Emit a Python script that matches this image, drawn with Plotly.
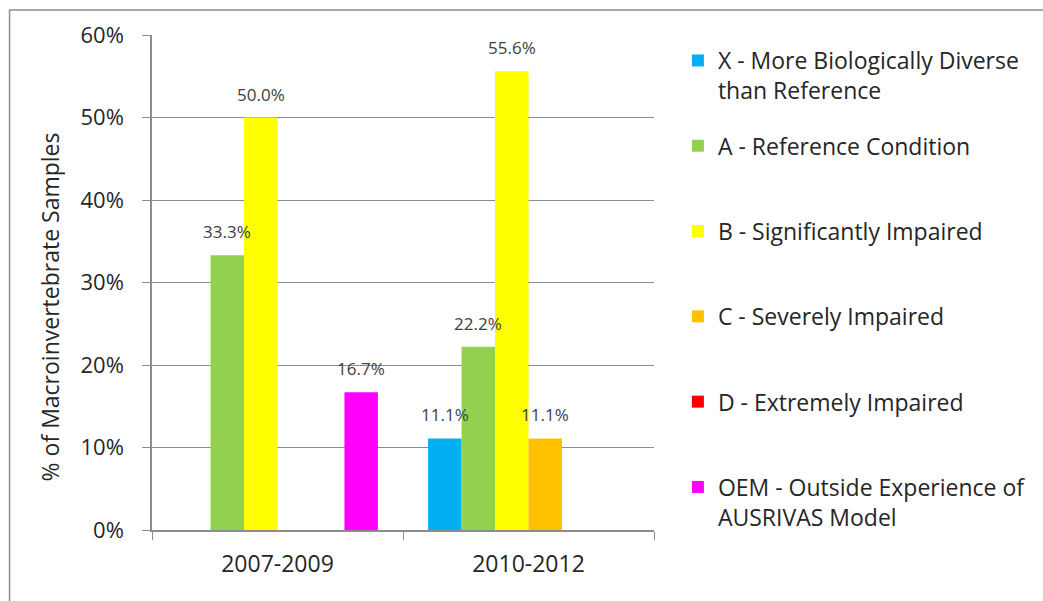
import plotly.graph_objects as go

# Sampling periods (x categories)
periods = ["2007-2009", "2010-2012"]

# AUSRIVAS bands, legend text and fill colours
bands = [
    "X - More Biologically Diverse<br>than Reference",
    "A - Reference Condition<br>&nbsp;",
    "B - Significantly Impaired<br>&nbsp;",
    "C - Severely Impaired<br>&nbsp;",
    "D - Extremely Impaired<br>&nbsp;",
    "OEM - Outside Experience of<br>AUSRIVAS Model",
]
colors = ["#00B0F0", "#92D050", "#FFFF00", "#FFC000", "#FF0000", "#FF00FF"]

# Percentage of samples in each band, per period
pct_x = [0.0, 11.1]
pct_a = [33.3, 22.2]
pct_b = [50.0, 55.6]
pct_c = [0.0, 11.1]
pct_d = [0.0, 0.0]
pct_oem = [16.7, 0.0]
series = [pct_x, pct_a, pct_b, pct_c, pct_d, pct_oem]

# y-axis ticks
tick_vals = [0, 10, 20, 30, 40, 50, 60]
tick_text = ["0%", "10%", "20%", "30%", "40%", "50%", "60%"]

BARGAP = 0.2
FONT = "'Open Sans', sans-serif"
TXT = "#404040"
DARK = "#262626"

fig = go.Figure()
for name, col, vals in zip(bands, colors, series):
    fig.add_trace(go.Bar(
        x=periods, y=vals, name=name, marker_color=col,
        marker_line_width=0, legendgroup=name,
    ))

# Value labels above each non-zero bar
n = len(series)
w = (1 - BARGAP) / n
annotations = []
for i, vals in enumerate(series):
    for j, v in enumerate(vals):
        if v == 0:
            continue
        annotations.append(dict(
            x=j + (i - (n - 1) / 2) * w, y=v, xref="x", yref="y",
            text=f"{v:.1f}%", showarrow=False, yanchor="bottom", yshift=10,
            font=dict(family=FONT, size=17, color=TXT),
        ))

L, R, T, B = 152, 387, 35, 71
pw, ph = 1043 - L - R, 601 - T - B

# Rotated y-axis title
annotations.append(dict(
    text="% of Macroinvertebrate Samples", textangle=-90, showarrow=False,
    xref="paper", yref="paper", x=(50 - L) / pw, y=(530 - 307) / ph,
    xanchor="center", yanchor="middle",
    font=dict(family=FONT, size=23, color=DARK),
))

# Outer chart border
shapes = [dict(
    type="rect", xref="paper", yref="paper",
    x0=(9 - L) / pw, x1=1 + (1060 - 1043 + R) / pw,
    y0=-(B + 20) / ph, y1=1 + (T - 10) / ph,
    line=dict(color="#8c8c8c", width=1.5), fillcolor="rgba(0,0,0,0)", layer="below",
)]

fig.update_layout(
    width=1043, height=601,
    margin=dict(l=L, r=R, t=T, b=B),
    paper_bgcolor="white", plot_bgcolor="white",
    barmode="group", bargap=BARGAP, bargroupgap=0,
    font=dict(family=FONT, color=TXT),
    showlegend=True,
    legend=dict(
        x=1 + (680 - 656) / pw, y=1 + (T - 39) / ph, xanchor="left", yanchor="top",
        font=dict(family=FONT, size=23, color=DARK),
        valign="top", tracegroupgap=22.5, itemclick=False, maxheight=590,
        bgcolor="rgba(0,0,0,0)",
    ),
    annotations=annotations,
    shapes=shapes,
)
fig.update_xaxes(
    type="category", showline=True, linecolor="#8c8c8c", linewidth=1.5,
    ticks="outside", tickson="boundaries", ticklen=8, tickcolor="#8c8c8c",
    ticklabelstandoff=13,
    tickfont=dict(family=FONT, size=23, color=DARK), showgrid=False,
)
fig.update_yaxes(
    range=[0, 60], tickvals=tick_vals, ticktext=tick_text,
    showline=True, linecolor="#8c8c8c", linewidth=1.5,
    ticks="outside", ticklen=8, tickcolor="#8c8c8c", ticklabelstandoff=14,
    showgrid=True, gridcolor="#8c8c8c", gridwidth=1, zeroline=False,
    tickfont=dict(family=FONT, size=22, color=DARK),
)

fig.write_html("out.html")
